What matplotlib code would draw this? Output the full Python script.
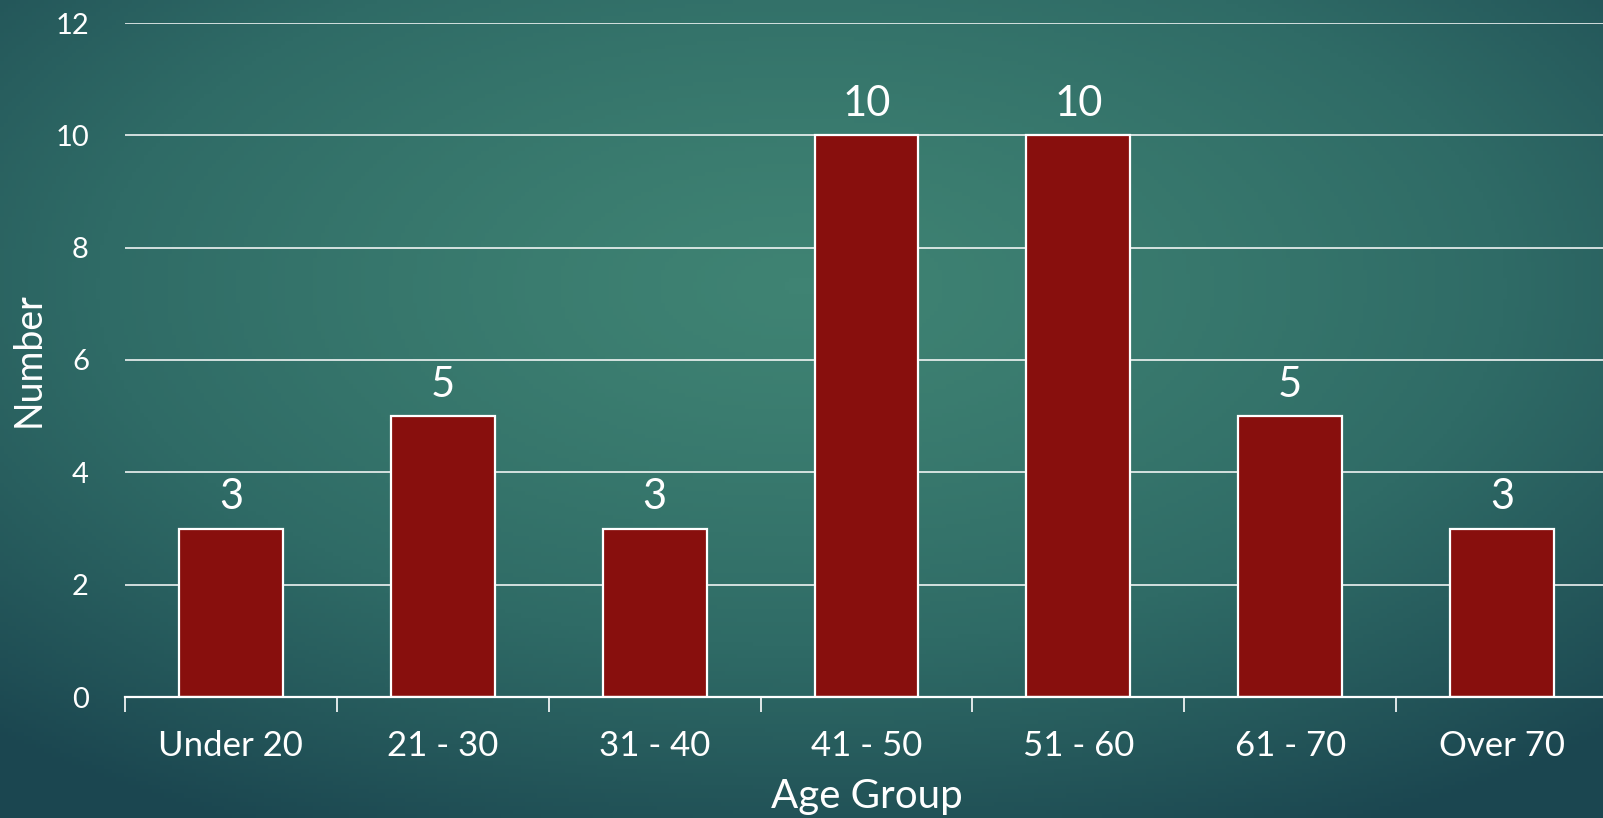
import numpy as np
import matplotlib
matplotlib.use("Agg")
import matplotlib.pyplot as plt
from matplotlib.colors import LinearSegmentedColormap

plt.rcParams["font.family"] = ["Lato", "DejaVu Sans"]

# Survey respondents by age band
age_groups = ["Under 20", "21 - 30", "31 - 40", "41 - 50", "51 - 60", "61 - 70", "Over 70"]
counts = [3, 5, 3, 10, 10, 5, 3]
y_ticks = [0, 2, 4, 6, 8, 10, 12]

W, H, DPI = 1603, 818, 100
fig = plt.figure(figsize=(W / DPI, H / DPI), dpi=DPI)

# teal radial backdrop, lighter toward the upper middle
bg = fig.add_axes([0, 0, 1, 1])
bg.set_axis_off()
xx, yy = np.meshgrid(np.linspace(0, 1, 400), np.linspace(0, 1, 200))
r = np.sqrt(((xx - 0.5) / 0.75) ** 2 + ((yy - 0.35) / 0.75) ** 2)
r = np.clip(r, 0, 1) ** 1.3
cmap = LinearSegmentedColormap.from_list("teal", ["#3f8373", "#2f6b66", "#1b4650"])
bg.imshow(r, cmap=cmap, aspect="auto", extent=[0, 1, 0, 1], origin="upper", vmin=0, vmax=1)

x0, x1 = 125 / W, 1608 / W
y0, y1 = (H - 697) / H, (H - 23) / H
ax = fig.add_axes([x0, y0, x1 - x0, y1 - y0])
ax.patch.set_alpha(0)

pos = np.arange(len(age_groups))
bars = ax.bar(pos, counts, width=0.49, color="#880f0d", edgecolor="white",
              linewidth=1.6, zorder=3)
ax.bar_label(bars, labels=[str(c) for c in counts], padding=9,
             fontsize=30, color="white")

ax.set_xlim(-0.5, 6.5)
ax.set_ylim(0, 12)
ax.set_yticks(y_ticks)
ax.yaxis.grid(True, color="white", linewidth=1.1, zorder=0)
ax.set_axisbelow(True)

ax.set_xticks(np.arange(-0.5, 6.5, 1.0), minor=False)
ax.set_xticklabels([])
ax.set_xticks(pos, minor=True)
ax.set_xticklabels(age_groups, minor=True, fontsize=25, color="white")
ax.tick_params(axis="x", which="major", length=11, width=1.2, color="white", direction="out")
ax.tick_params(axis="x", which="minor", length=0, pad=24)
ax.tick_params(axis="y", length=0, pad=26, labelsize=21, labelcolor="white")

for side in ["top", "right", "left"]:
    ax.spines[side].set_visible(False)
ax.spines["bottom"].set_color("white")
ax.spines["bottom"].set_linewidth(1.6)
ax.spines["bottom"].set_zorder(4)

fig.text((x0 + x1) / 2, (H - 808) / H, "Age Group", ha="center", va="baseline",
         fontsize=29, color="white")
fig.text(29 / W, (H - 360) / H, "Number", ha="center", va="center", rotation=90,
         fontsize=27, color="white")

fig.savefig("out.png", dpi=DPI)
